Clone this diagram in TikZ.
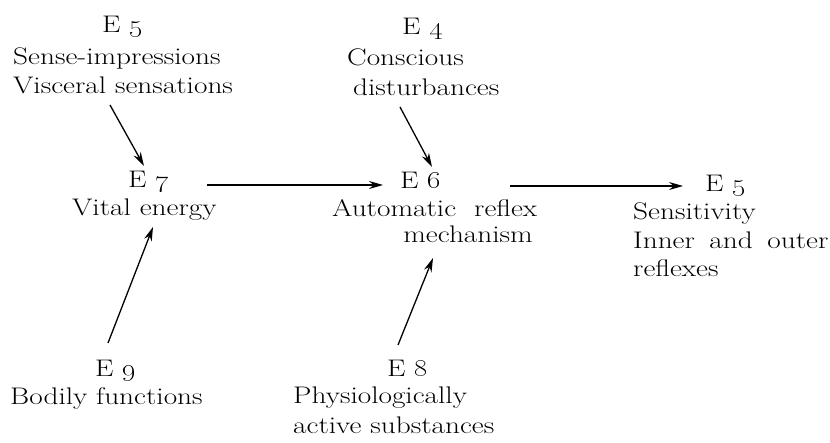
\documentclass[tikz,border=0pt]{standalone}
\usetikzlibrary{arrows.meta,calc}
\newcommand\sx[1]{\scalebox{1.22}[1]{#1}}
\begin{document}
\begin{tikzpicture}[x=1pt,y=-1pt,
  txt/.style={inner sep=0pt,anchor=base west,font=\fontsize{24}{28}\selectfont},
  txtr/.style={inner sep=0pt,anchor=base east,font=\fontsize{24}{28}\selectfont},
  arr/.style={line width=1.3pt,-{Stealth[length=14pt,width=8pt]}}]
\useasboundingbox (0,0) rectangle (830,443);
% top left
\node[txt] (e5a) at (102,33) {\sx{E \oldstylenums{5}}};
\node[txt] (sen) at (13,65) {\sx{Sense-impressions}};
\node[txt] (vis) at (13,94) {\sx{Visceral sensations}};
% top middle
\node[txt] (e4) at (402,35) {\sx{E \oldstylenums{4}}};
\node[txt] (con) at (347,66) {\sx{Conscious}};
\node[txt] (dis) at (353,96) {\sx{disturbances}};
% middle row
\node[txt] (e7) at (128,188) {\sx{E \oldstylenums{7}}};
\node[txt] (vit) at (72,216) {\sx{Vital energy}};
\node[txt] (e6) at (400,189) {\sx{E \oldstylenums{6}}};
\node[txt] (aut) at (332,217) {\sx{\makebox[168pt][s]{Automatic reflex}}};
\node[txtr] (mec) at (533,243) {\sx{mechanism}};
\node[txt] (e5b) at (705,192) {\sx{E \oldstylenums{5}}};
\node[txt] (sns) at (633,220) {\sx{Sensitivity}};
\node[txt] (inn) at (633,249) {\sx{\makebox[160pt][s]{Inner and outer}}};
\node[txt] (ref) at (633,277) {\sx{reflexes}};
% bottom
\node[txt] (e9) at (95,377) {\sx{E \oldstylenums{9}}};
\node[txt] (bod) at (10,405) {\sx{Bodily functions}};
\node[txt] (e8) at (387,377) {\sx{E \oldstylenums{8}}};
\node[txt] (phy) at (293,403) {\sx{Physiologically}};
\node[txt] (act) at (293,434) {\sx{active substances}};
% arrows
\draw[arr] ($(vis.base west)+(97,11)$) -- ($(e7.base west)+(16,-22)$);
\draw[arr] ($(dis.base west)+(47,11)$) -- ($(e6.base west)+(32,-22)$);
\draw[arr] ($(e9.base west)+(13,-34)$) -- ($(vit.base west)+(81,11)$);
\draw[arr] ($(e8.base west)+(11,-32)$) -- ($(mec.base east)+(-100,15)$);
\draw[arr] ($(e7.base west)+(79,-3)$) -- ($(e6.base west)+(-17,-4)$);
\draw[arr] ($(e6.base west)+(110,-3)$) -- ($(e5b.base west)+(-22,-6)$);
\end{tikzpicture}
\end{document}
